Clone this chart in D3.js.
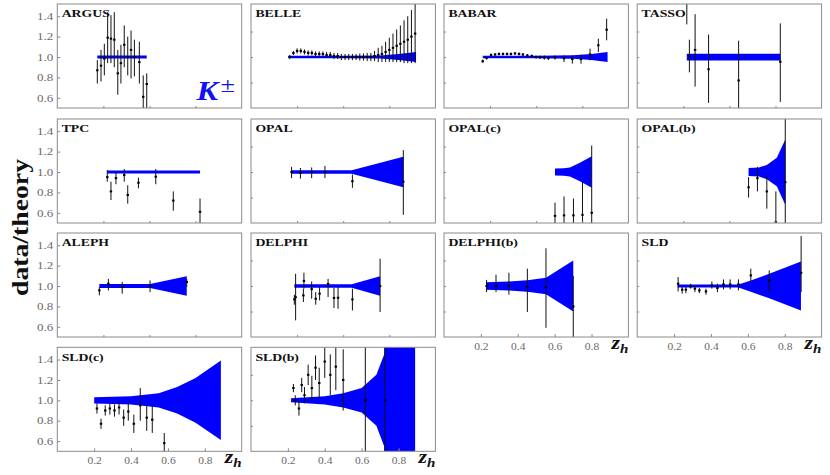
<!DOCTYPE html>
<html><head><meta charset="utf-8">
<script src="https://cdn.jsdelivr.net/npm/d3@7"></script>
<style>body{margin:0;background:#fff}</style>
</head><body><svg id="c" width="830" height="475"></svg>
<script>
// ---------------- DATA ----------------
const panelNames = ["ARGUS","BELLE","BABAR","TASSO","TPC","OPAL","OPAL(c)","OPAL(b)","ALEPH","DELPHI","DELPHI(b)","SLD","SLD(c)","SLD(b)"];
const yTickVals = [0.6,0.8,1.0,1.2,1.4];
const yTickLabels = ["0.6","0.8","1.0","1.2","1.4"];
const xTickVals = [0.2,0.4,0.6,0.8];
const xTickLabels = ["0.2","0.4","0.6","0.8"];
const minorX = [0.25,0.5,0.75];
const minorY = [0.75,1.0,1.25];

const argusZ  = [0.217,0.237,0.255,0.273,0.291,0.309,0.328,0.345,0.363,0.382,0.400,0.418,0.445,0.466,0.485];
const argusV  = [0.87,0.915,0.985,1.19,1.18,1.17,0.84,0.94,1.12,1.00,1.07,1.00,0.95,0.61,0.735];
const argusLo = [0.74,0.76,0.82,0.94,0.94,0.90,0.63,0.74,0.90,0.82,0.79,0.81,0.74,0.45,0.45];
const argusHi = [0.97,1.07,1.13,1.44,1.41,1.44,1.07,1.12,1.31,1.20,1.26,1.17,1.15,0.82,0.84];
const argusBandZ = [0.217,0.485];
const argusBandW = [0.015,0.015];

const belleZ   = [0.21,0.23,0.25,0.27,0.29,0.31,0.33,0.35,0.37,0.39,0.41,0.43,0.45,0.47,0.49,0.51,0.53,0.55,0.57,0.59,0.61,0.63,0.65,0.67,0.69,0.71,0.73,0.75,0.77,0.79,0.81,0.83,0.85,0.87,0.89];
const belleV   = [1.00,1.04,1.06,1.06,1.05,1.04,1.04,1.03,1.03,1.03,1.02,1.02,1.01,1.01,1.00,1.00,1.00,1.00,1.00,1.00,1.00,1.00,1.00,1.01,1.02,1.03,1.05,1.07,1.09,1.11,1.13,1.15,1.17,1.20,1.23];
const belleErr = [0.02,0.02,0.025,0.025,0.025,0.025,0.025,0.025,0.025,0.025,0.03,0.03,0.03,0.03,0.03,0.03,0.03,0.03,0.03,0.035,0.035,0.04,0.04,0.05,0.07,0.08,0.10,0.12,0.14,0.16,0.18,0.21,0.23,0.26,0.29];
const belleBandZ = [0.202,0.5,0.7,0.8,0.895];
const belleBandW = [0.012,0.012,0.015,0.03,0.05];

const babarZ  = [0.21,0.231,0.255,0.277,0.298,0.32,0.342,0.363,0.385,0.407,0.428,0.452,0.476,0.499,0.521,0.544,0.566,0.602,0.651,0.696,0.743,0.792,0.837,0.882];
const babarV  = [0.958,0.99,1.02,1.025,1.03,1.03,1.03,1.03,1.035,1.03,1.025,1.015,1.01,1.0,0.997,0.995,0.99,0.995,0.987,0.98,0.98,1.026,1.115,1.268];
const babarLo = [0.945,0.975,1.005,1.01,1.015,1.015,1.015,1.015,1.02,1.015,1.01,1.0,0.995,0.985,0.98,0.975,0.97,0.975,0.951,0.935,0.935,0.967,1.049,1.164];
const babarHi = [0.975,1.005,1.035,1.04,1.045,1.045,1.045,1.045,1.05,1.045,1.04,1.03,1.025,1.015,1.015,1.015,1.01,1.015,1.016,1.016,1.023,1.082,1.18,1.376];
const babarBandZ = [0.21,0.5,0.7,0.8,0.887];
const babarBandW = [0.012,0.012,0.018,0.03,0.05];

const tassoZ  = [0.269,0.283,0.314,0.387,0.55,0.776];
const tassoV  = [1.7,1.01,1.07,0.88,0.77,0.954];
const tassoLo = [1.32,0.85,0.71,0.55,0.45,0.56];
const tassoHi = [2.1,1.17,1.42,1.22,1.16,1.33];
const tassoBandZ = [0.269,0.776];
const tassoBandW = [0.033,0.033];

const tpcZ  = [0.271,0.291,0.318,0.363,0.382,0.44,0.534,0.629,0.774];
const tpcV  = [0.95,0.81,0.94,0.97,0.775,0.895,0.954,0.72,0.61];
const tpcLo = [0.905,0.725,0.88,0.905,0.69,0.84,0.88,0.62,0.45];
const tpcHi = [1.02,0.905,1.0,1.03,0.87,0.945,1.03,0.81,0.74];
const tpcBandZ = [0.271,0.774];
const tpcBandW = [0.015,0.015];

const opalZ  = [0.22,0.268,0.329,0.401,0.55,0.826];
const opalV  = [1.0,0.99,1.0,1.0,0.91,0.905];
const opalLo = [0.94,0.935,0.94,0.94,0.845,0.58];
const opalHi = [1.05,1.04,1.045,1.06,0.975,1.215];
const opalBandZ = [0.22,0.546,0.826];
const opalBandW = [0.017,0.017,0.15];

const opalcZ  = [0.602,0.651,0.702,0.751,0.801];
const opalcV  = [0.57,0.575,0.575,0.58,0.6];
const opalcLo = [0.45,0.45,0.45,0.45,0.3];
const opalcHi = [0.70,0.76,0.74,0.905,1.26];
const opalcBandZ = [0.602,0.65,0.683,0.737,0.801];
const opalcBandW = [0.034,0.036,0.045,0.09,0.155];

const opalbZ  = [0.604,0.652,0.703,0.752,0.803];
const opalbV  = [0.85,0.94,0.81,0.51,0.9];
const opalbLo = [0.75,0.81,0.64,0.35,0.2];
const opalbHi = [0.95,1.05,0.97,0.81,1.7];
const opalbBandZ = [0.604,0.66,0.703,0.757,0.803];
const opalbBandW = [0.04,0.045,0.07,0.14,0.32];

const alephZ  = [0.228,0.277,0.352,0.503,0.702];
const alephV  = [0.957,1.023,0.99,1.0,1.04];
const alephLo = [0.908,0.957,0.925,0.94,0.99];
const alephHi = [0.99,1.07,1.04,1.055,1.07];
const alephBandZ = [0.228,0.503,0.702];
const alephBandW = [0.02,0.02,0.095];

const delphiZ  = [0.235,0.242,0.284,0.287,0.329,0.351,0.372,0.418,0.45,0.472,0.55,0.70];
const delphiV  = [0.869,0.89,0.908,1.05,0.97,0.875,0.925,1.02,0.883,0.885,0.869,1.0];
const delphiLo = [0.817,0.663,0.843,0.974,0.875,0.817,0.859,0.892,0.784,0.777,0.76,0.745];
const delphiHi = [0.915,1.12,0.974,1.13,1.045,0.94,0.99,1.07,0.98,0.99,0.974,1.268];
const delphiBandZ = [0.235,0.546,0.70];
const delphiBandW = [0.017,0.017,0.095];

const delphibZ  = [0.231,0.282,0.352,0.452,0.553,0.701];
const delphibV  = [1.0,1.0,1.0,0.99,0.99,0.8];
const delphibLo = [0.94,0.94,0.915,0.745,0.59,0.4];
const delphibHi = [1.06,1.11,1.13,1.17,1.37,1.10];
const delphibBandZ = [0.228,0.352,0.452,0.553,0.701];
const delphibBandW = [0.036,0.045,0.057,0.08,0.25];

const sldZ  = [0.222,0.244,0.264,0.29,0.313,0.337,0.373,0.405,0.435,0.468,0.504,0.549,0.616,0.716,0.889];
const sldV  = [1.023,0.964,0.964,0.996,0.974,0.957,0.947,1.006,0.98,1.016,1.016,1.016,1.104,1.055,1.13];
const sldLo = [0.947,0.925,0.931,0.974,0.94,0.931,0.915,0.974,0.94,0.967,0.967,0.957,1.045,0.94,0.94];
const sldHi = [1.088,0.99,0.99,1.023,1.0,0.98,0.974,1.045,1.023,1.065,1.065,1.065,1.17,1.153,1.49];
const sldBandZ = [0.219,0.549,0.616,0.716,0.888];
const sldBandW = [0.015,0.015,0.055,0.12,0.24];

const sldcZ  = [0.215,0.237,0.26,0.285,0.31,0.335,0.36,0.385,0.415,0.45,0.485,0.515,0.58];
const sldcV  = [0.92,0.77,0.90,0.92,0.90,0.93,0.83,0.89,0.77,0.95,0.83,0.81,0.58];
const sldcLo = [0.87,0.72,0.85,0.86,0.84,0.86,0.75,0.80,0.68,0.80,0.70,0.68,0.50];
const sldcHi = [0.97,0.82,0.95,0.97,0.96,1.00,0.91,0.98,0.86,1.12,0.96,0.95,0.68];
const sldcBandZ = [0.2,0.4,0.55,0.65,0.75,0.887];
const sldcBandW = [0.03,0.04,0.07,0.13,0.22,0.39];

const sldbZ  = [0.23,0.24,0.26,0.275,0.29,0.31,0.33,0.35,0.37,0.40,0.43,0.46,0.50,0.62,0.727];
const sldbV  = [1.12,1.0,0.92,1.15,1.05,1.25,1.12,1.32,1.17,1.38,1.25,1.33,1.2,1.0,1.0];
const sldbLo = [1.08,0.95,0.85,1.08,0.97,1.15,1.0,1.2,1.02,1.22,1.05,1.1,0.9,0.3,0.3];
const sldbHi = [1.16,1.05,0.99,1.22,1.13,1.35,1.24,1.44,1.32,1.54,1.45,1.56,1.5,1.8,1.8];
const sldbBandZ = [0.217,0.4,0.5,0.6,0.68,0.722,0.724,0.89];
const sldbBandW = [0.02,0.04,0.07,0.12,0.25,0.45,2.0,2.0];

// ---------------- LAYOUT ----------------
const colLeft = [57.3,251,444,637.2], rowTop = [4,119,233,347.3];
const PW = 184.4, PH = 104;
const yDomain = [0.5,1.52];
const serif = "'Liberation Serif','DejaVu Serif',serif";

const panels = [
 {z:argusZ,v:argusV,lo:argusLo,hi:argusHi,bz:argusBandZ,bw:argusBandW},
 {z:belleZ,v:belleV,lo:belleV.map((d,i)=>d-belleErr[i]),hi:belleV.map((d,i)=>d+belleErr[i]),bz:belleBandZ,bw:belleBandW},
 {z:babarZ,v:babarV,lo:babarLo,hi:babarHi,bz:babarBandZ,bw:babarBandW},
 {z:tassoZ,v:tassoV,lo:tassoLo,hi:tassoHi,bz:tassoBandZ,bw:tassoBandW},
 {z:tpcZ,v:tpcV,lo:tpcLo,hi:tpcHi,bz:tpcBandZ,bw:tpcBandW},
 {z:opalZ,v:opalV,lo:opalLo,hi:opalHi,bz:opalBandZ,bw:opalBandW},
 {z:opalcZ,v:opalcV,lo:opalcLo,hi:opalcHi,bz:opalcBandZ,bw:opalcBandW},
 {z:opalbZ,v:opalbV,lo:opalbLo,hi:opalbHi,bz:opalbBandZ,bw:opalbBandW},
 {z:alephZ,v:alephV,lo:alephLo,hi:alephHi,bz:alephBandZ,bw:alephBandW},
 {z:delphiZ,v:delphiV,lo:delphiLo,hi:delphiHi,bz:delphiBandZ,bw:delphiBandW},
 {z:delphibZ,v:delphibV,lo:delphibLo,hi:delphibHi,bz:delphibBandZ,bw:delphibBandW},
 {z:sldZ,v:sldV,lo:sldLo,hi:sldHi,bz:sldBandZ,bw:sldBandW},
 {z:sldcZ,v:sldcV,lo:sldcLo,hi:sldcHi,bz:sldcBandZ,bw:sldcBandW},
 {z:sldbZ,v:sldbV,lo:sldbLo,hi:sldbHi,bz:sldbBandZ,bw:sldbBandW}
];
panels.forEach((p,i)=>{p.name=panelNames[i]; p.col=i%4; p.row=Math.floor(i/4);});
const bottomPanels = new Set([10,11,12,13]);

function stretch(sel,k){
  sel.each(function(){
    const w=this.getComputedTextLength();
    d3.select(this).attr("textLength",w*k).attr("lengthAdjust","spacingAndGlyphs");
  });
}

const svg = d3.select("#c");
const defs = svg.append("defs");

panels.forEach((p,i)=>{
  const x0=colLeft[p.col], y0=rowTop[p.row];
  const x=d3.scaleLinear().domain([0,1]).range([x0,x0+PW]);
  const y=d3.scaleLinear().domain(yDomain).range([y0+PH,y0]);
  defs.append("clipPath").attr("id","cl"+i).append("rect")
    .attr("x",x0).attr("y",y0).attr("width",PW).attr("height",PH);
  const g=svg.append("g").attr("clip-path",`url(#cl${i})`);

  const area=d3.area()
    .x((d,j)=>x(p.bz[j]))
    .y0((d,j)=>y(1-p.bw[j]))
    .y1((d,j)=>y(1+p.bw[j]));
  g.append("path").datum(p.bz).attr("d",area).attr("fill","#0000ff");

  g.selectAll("line.err").data(p.z).join("line").attr("class","err")
    .attr("x1",d=>x(d)).attr("x2",d=>x(d))
    .attr("y1",(d,j)=>y(p.lo[j])).attr("y2",(d,j)=>y(p.hi[j]))
    .attr("stroke","#111").attr("stroke-width",1);
  g.selectAll("rect.pt").data(p.z).join("rect").attr("class","pt")
    .attr("x",d=>x(d)-1.2).attr("y",(d,j)=>y(p.v[j])-1)
    .attr("width",2.4).attr("height",2).attr("fill","#000");

  // frame
  svg.append("rect").attr("x",x0).attr("y",y0).attr("width",PW).attr("height",PH)
    .attr("fill","none").attr("stroke","#8a8a8a").attr("stroke-width",1);

  // y axis
  const ya = svg.append("g").attr("transform",`translate(${x0},0)`);
  if(p.col===0){
    ya.call(d3.axisLeft(y).tickValues(yTickVals).tickSize(-3).tickPadding(4)
      .tickFormat((d,k)=>yTickLabels[k]));
  } else {
    ya.call(d3.axisLeft(y).tickValues(minorY).tickSize(-2).tickFormat(""));
  }
  ya.select(".domain").remove();
  ya.selectAll("line").attr("stroke","#8a8a8a");
  ya.selectAll("text").attr("fill","#6a6a6a").style("font-family",serif).style("font-size","10px");
  stretch(ya.selectAll("text"),1.3);

  // x axis
  const xa = svg.append("g").attr("transform",`translate(0,${y0+PH})`);
  if(bottomPanels.has(i)){
    xa.call(d3.axisBottom(x).tickValues(xTickVals).tickSize(-3).tickPadding(6)
      .tickFormat((d,k)=>xTickLabels[k]));
  } else {
    xa.call(d3.axisBottom(x).tickValues(minorX).tickSize(-2).tickFormat(""));
  }
  xa.select(".domain").remove();
  xa.selectAll("line").attr("stroke","#8a8a8a");
  xa.selectAll("text").attr("fill","#6a6a6a").style("font-family",serif).style("font-size","10px");
  stretch(xa.selectAll("text"),1.15);

  // title
  const t=svg.append("text").attr("x",x0+4.4).attr("y",y0+13.3)
    .style("font-family",serif).style("font-weight","bold").style("font-size","11px")
    .attr("fill","#111").text(p.name);
  stretch(t,1.25);

  // z_h label
  if(bottomPanels.has(i)){
    const zt=svg.append("text").attr("x",x0+PW-17).attr("y",y0+PH+11.5)
      .style("font-family",serif).style("font-weight","bold").style("font-style","italic")
      .style("font-size","19px").attr("fill","#111");
    zt.append("tspan").text("z");
    zt.append("tspan").attr("dy",4).style("font-size","13px").text("h");
    stretch(zt,1.15);
  }
});

// K± label
const kt=svg.append("text").attr("x",196.5).attr("y",100)
  .style("font-family",serif).style("font-weight","bold").style("font-style","italic")
  .style("font-size","27px").attr("fill","#1010f0");
kt.append("tspan").text("K");
kt.append("tspan").attr("dy",-8).attr("dx",2).style("font-size","22px").style("font-style","normal").style("font-weight","normal").text("±");
kt.attr("textLength",38.5).attr("lengthAdjust","spacingAndGlyphs");

// y title
svg.append("text").attr("transform","translate(28,227.5) rotate(-90)")
  .attr("text-anchor","middle")
  .style("font-family",serif).style("font-weight","bold").style("font-size","24px")
  .attr("fill","#111").text("data/theory")
  .attr("textLength",137).attr("lengthAdjust","spacingAndGlyphs");
</script></body></html>
